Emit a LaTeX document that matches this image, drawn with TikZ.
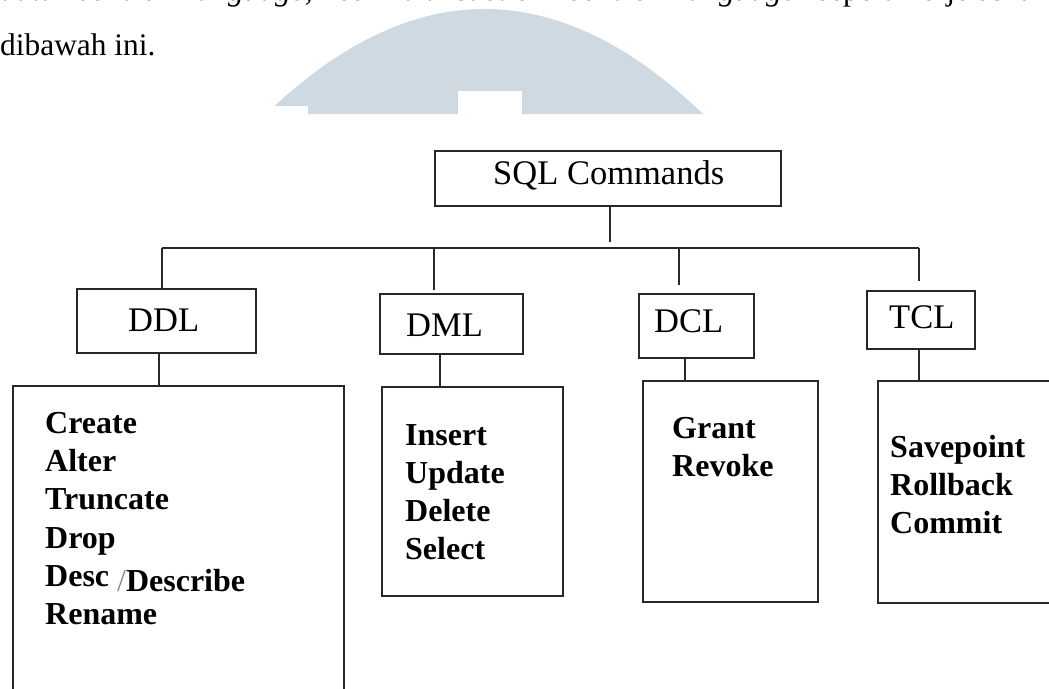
\documentclass[tikz,border=0pt]{standalone}
\usepackage{fontspec}
\setmainfont{Liberation Serif}
\definecolor{markblue}{RGB}{206,217,226}
\definecolor{ink}{RGB}{40,40,40}
\begin{document}
\begin{tikzpicture}[x=1pt,y=-1pt,
  wire/.style={draw=ink, line width=1.6pt},
  box/.style={draw=ink, line width=1.6pt, inner sep=0pt, anchor=north west},
  head/.style={anchor=base west, inner sep=0pt, font=\fontsize{34.5}{41}\selectfont},
  items/.style={anchor=base west, inner sep=0pt, font=\fontsize{32}{38.3}\selectfont\bfseries},
  prose/.style={anchor=base west, inner sep=0pt, font=\fontsize{31.4}{40}\selectfont},
]
\useasboundingbox (0,0) rectangle (1049,688);
\clip (0,0) rectangle (1049,688);

% light logo shape behind the page text
\fill[markblue] (266,114) .. controls (411.7,-26) and (557.3,-26) .. (703,114) -- cycle;
\fill[white] (250,106) rectangle (308,116);
\fill[white] (458,91) rectangle (522,116);

% running text of the page
\node[prose] (para1) at (0,1) {\makebox[1049pt][s]{\itshape data control language, \upshape dan \itshape transaction control language \upshape seperti dijelaskan}};
\node[prose] (para2) at (0,55) {dibawah ini.};

% root
\node[box, minimum width=346pt, minimum height=55pt] (sql) at (434,150) {};
\node[head] (sqltext) at (493,184) {SQL Commands};

% command groups
\node[box, minimum width=179pt, minimum height=64pt] (ddl) at (76,288) {};
\node[box, minimum width=143pt, minimum height=60pt] (dml) at (379,293) {};
\node[box, minimum width=115pt, minimum height=64pt] (dcl) at (638,293) {};
\node[box, minimum width=108pt, minimum height=58pt] (tcl) at (866,290) {};
\node[head] (ddltext) at (128,331.7) {DDL};
\node[head] (dmltext) at (406,336) {DML};
\node[head] (dcltext) at (654,332) {DCL};
\node[head] (tcltext) at (889,328) {TCL};

% command lists
\node[box, minimum width=331pt, minimum height=330pt] (ddlset) at (12,385) {};
\node[box, minimum width=181pt, minimum height=209pt] (dmlset) at (381,386) {};
\node[box, minimum width=175pt, minimum height=221pt] (dclset) at (642,380) {};
\node[box, minimum width=190pt, minimum height=222pt] (tclset) at (877,380) {};

\node[items] (ddlitems) at (45,433.3) {\begin{tabular}[t]{@{}l@{}}Create\\Alter\\Truncate\\Drop\\Desc \raisebox{-5pt}[0pt][0pt]{{\mdseries\color{black!45}/}Describe}\\Rename\end{tabular}};
\node[items] (dmlitems) at (405,445) {\begin{tabular}[t]{@{}l@{}}Insert\\Update\\Delete\\Select\end{tabular}};
\node[items] (dclitems) at (672,438) {\begin{tabular}[t]{@{}l@{}}Grant\\Revoke\end{tabular}};
\node[items] (tclitems) at (890,457) {\begin{tabular}[t]{@{}l@{}}Savepoint\\Rollback\\Commit\end{tabular}};

% tree wiring
\coordinate (hub) at (610,242);
\coordinate (busL) at (162,248);
\coordinate (busM1) at (434,248);
\coordinate (busM2) at (679,248);
\coordinate (busR) at (919,248);
\draw[wire] (sql.south -| hub) -- (hub);
\draw[wire] (busL) -- (busR);
\draw[wire] (busL) -- (ddl.north -| busL);
\draw[wire, shorten >=3pt] (busM1) -- (dml.north -| busM1);
\draw[wire, shorten >=8pt] (busM2) -- (dcl.north -| busM2);
\draw[wire, shorten >=9pt] (busR) -- (tcl.north -| busR);

\coordinate (c1) at (159,0);
\coordinate (c2) at (440,0);
\coordinate (c3) at (685,0);
\coordinate (c4) at (919,0);
\draw[wire] (ddl.south -| c1) -- (ddlset.north -| c1);
\draw[wire] (dml.south -| c2) -- (dmlset.north -| c2);
\draw[wire] (dcl.south -| c3) -- (dclset.north -| c3);
\draw[wire] (tcl.south -| c4) -- (tclset.north -| c4);
\end{tikzpicture}
\end{document}
